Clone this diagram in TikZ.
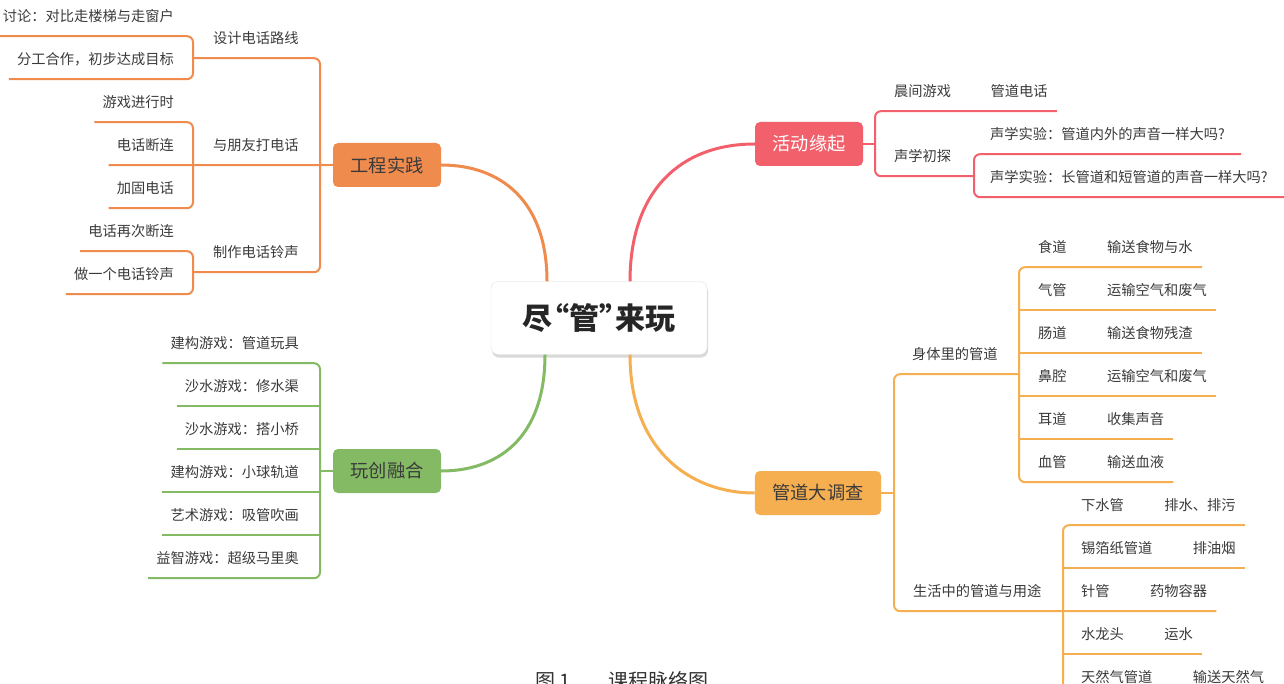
\documentclass[tikz,border=0pt]{standalone}
\usepackage{fontspec}
\setmainfont{Noto Sans CJK SC}
\usetikzlibrary{positioning, calc, shadows}

\definecolor{gongC}{HTML}{F08B4E}
\definecolor{huoC}{HTML}{F1606B}
\definecolor{wanC}{HTML}{84BA64}
\definecolor{guanC}{HTML}{F5AE50}
\definecolor{txtC}{HTML}{3A3A3A}

\begin{document}
\begin{tikzpicture}[
  x=1pt, y=-1pt,
  every node/.style={inner sep=0pt, text=txtC, font=\fontsize{14.25}{16}\selectfont},
  leaf/.style={minimum height=40pt},
  leafL/.style={leaf, inner xsep=8pt, anchor=east},
  leafR/.style={leaf, anchor=west},
  topic/.style={rounded corners=5pt, minimum height=44pt, inner xsep=17.5pt, font=\fontsize{18.25}{20}\selectfont},
  uline/.style={line width=2pt, rounded corners=6pt},
  branch/.style={line width=3pt}
]
\useasboundingbox (0,0) rectangle (1284,684);
\clip (0,0) rectangle (1284,684);

% centre
\node[draw=black!12, fill=white, rounded corners=7pt, minimum width=216pt, minimum height=73pt,
  drop shadow={shadow xshift=1pt, shadow yshift=-3pt, opacity=0.3},
  font=\fontsize{30}{34}\selectfont\bfseries, text=black!85] (root) at (599,318) {尽\kern-0.45em“管”\kern-0.45em来玩};

% main topics
\node[topic, fill=gongC] (gong) at (387,165) {工程实践};
\node[topic, fill=huoC, text=white] (huo) at (809,144) {活动缘起};
\node[topic, fill=wanC] (wan) at (387,471) {玩创融合};
\node[topic, fill=guanC] (guan) at (818,493) {管道大调查};

\draw[branch, gongC] ([xshift=-52pt]root.north) .. controls +(0,-80) and +(60,0) .. (gong.east);
\draw[branch, huoC] ([xshift=31pt]root.north) .. controls +(0,-90) and +(-75,0) .. (huo.west);
\draw[branch, wanC] ([xshift=-54pt]root.south) .. controls +(0,85) and +(55,0) .. (wan.east);
\draw[branch, guanC] ([xshift=31pt]root.south) .. controls +(0,95) and +(-65,0) .. (guan.west);

% 工程实践
\coordinate (gongBrk) at (193,0);
\coordinate (gongTrunk) at (320,0);
\node[leafR] (sheji) at (213,38) {设计电话路线};
\node[leafR] (pengyou) at (213,145) {与朋友打电话};
\node[leafR] (lingsheng) at (213,252) {制作电话铃声};
\node[leafL] (taolun) at (182,16) {讨论：对比走楼梯与走窗户};
\node[leafL] (fengong) at (182,59) {分工合作，初步达成目标};
\node[leafL] (youxi) at (182,102) {游戏进行时};
\node[leafL] (duanlian) at (182,145) {电话断连};
\node[leafL] (jiagu) at (182,188) {加固电话};
\node[leafL] (zaici) at (182,231) {电话再次断连};
\node[leafL] (zuoyige) at (182,274) {做一个电话铃声};

\draw[uline, gongC] (sheji.south -| gongBrk) -- (sheji.south -| gongTrunk) -- (lingsheng.south -| gongTrunk) -- (lingsheng.south -| gongBrk);
\draw[uline, gongC] (duanlian.south west) -- (gong.west);
\draw[uline, gongC] (taolun.south west) -- (taolun.south west -| gongBrk) -- (fengong.south west -| gongBrk) -- (fengong.south west);
\draw[uline, gongC] (youxi.south west) -- (youxi.south west -| gongBrk) -- (jiagu.south west -| gongBrk) -- (jiagu.south west);
\draw[uline, gongC] (zaici.south west) -- (zaici.south west -| gongBrk) -- (zuoyige.south west -| gongBrk) -- (zuoyige.south west);

% 玩创融合
\coordinate (wanBrk) at (320,0);
\node[leafL] (jiangou1) at (307,343) {建构游戏：管道玩具};
\node[leafL] (shashui1) at (307,386) {沙水游戏：修水渠};
\node[leafL] (shashui2) at (307,429) {沙水游戏：搭小桥};
\node[leafL] (jiangou2) at (307,472) {建构游戏：小球轨道};
\node[leafL] (yishu) at (307,515) {艺术游戏：吸管吹画};
\node[leafL] (yizhi) at (307,558) {益智游戏：超级马里奥};

\draw[uline, wanC] (wan.west) -- (wan.west -| wanBrk);
\draw[uline, wanC] (jiangou1.south west) -- (jiangou1.south west -| wanBrk) -- (yizhi.south west -| wanBrk) -- (yizhi.south west);
\draw[uline, wanC] (shashui1.south west) -- (shashui1.south west -| wanBrk);
\draw[uline, wanC] (shashui2.south west) -- (shashui2.south west -| wanBrk);
\draw[uline, wanC] (jiangou2.south west) -- (jiangou2.south west -| wanBrk);
\draw[uline, wanC] (yishu.south west) -- (yishu.south west -| wanBrk);

% 活动缘起
\coordinate (huoBrk) at (875,0);
\coordinate (shengBrk) at (974,0);
\node[leafR] (chenjian) at (894,91) {晨间游戏};
\node[leaf, right=39pt of chenjian] (dianhua) {管道电话};
\node[leafR] (chutan) at (894,156) {声学初探};
\node[leafR] (shiyan1) at (990,134) {声学实验：管道内外的声音一样大吗?};
\node[leafR] (shiyan2) at (990,177) {声学实验：长管道和短管道的声音一样大吗?};

\draw[uline, huoC] (huo.east) -- (huo.east -| huoBrk);
\draw[uline, huoC] ([xshift=9pt]dianhua.south east) -- (chenjian.south -| huoBrk) -- (chutan.south -| huoBrk) -- (chutan.south -| shengBrk);
\draw[uline, huoC] ([xshift=16pt]shiyan1.south east) -- (shiyan1.south -| shengBrk) -- (shiyan2.south -| shengBrk) -- ([xshift=16pt]shiyan2.south east);

% 管道大调查
\coordinate (guanTrunk) at (894,0);
\coordinate (shentiBrk) at (1019,0);
\coordinate (shenghuoBrk) at (1063,0);
\node[leafR] (shenti) at (912,354) {身体里的管道};
\node[leafR] (shenghuo) at (913,591) {生活中的管道与用途};

\node[leafR] (shidao) at (1038,247) {食道};
\node[leaf, right=40pt of shidao] (shidaoYong) {输送食物与水};
\node[leafR] (qiguan) at (1038,290) {气管};
\node[leaf, right=40pt of qiguan] (qiguanYong) {运输空气和废气};
\node[leafR] (changdao) at (1038,333) {肠道};
\node[leaf, right=40pt of changdao] (changdaoYong) {输送食物残渣};
\node[leafR] (biqiang) at (1038,376) {鼻腔};
\node[leaf, right=40pt of biqiang] (biqiangYong) {运输空气和废气};
\node[leafR] (erdao) at (1038,419) {耳道};
\node[leaf, right=40pt of erdao] (erdaoYong) {收集声音};
\node[leafR] (xueguan) at (1038,462) {血管};
\node[leaf, right=40pt of xueguan] (xueguanYong) {输送血液};

\node[leafR] (xiashui) at (1081,505) {下水管};
\node[leaf, right=40pt of xiashui] (xiashuiYong) {排水、排污};
\node[leafR] (xibo) at (1081,548) {锡箔纸管道};
\node[leaf, right=40pt of xibo] (xiboYong) {排油烟};
\node[leafR] (zhenguan) at (1081,591) {针管};
\node[leaf, right=40pt of zhenguan] (zhenguanYong) {药物容器};
\node[leafR] (shuilong) at (1081,634) {水龙头};
\node[leaf, right=40pt of shuilong] (shuilongYong) {运水};
\node[leafR] (tianran) at (1081,677) {天然气管道};
\node[leaf, right=40pt of tianran] (tianranYong) {输送天然气};

\draw[uline, guanC] (guan.east) -- (guan.east -| guanTrunk);
\draw[uline, guanC] (shenti.south -| shentiBrk) -- (shenti.south -| guanTrunk) -- (shenghuo.south -| guanTrunk) -- ([xshift=9pt]zhenguanYong.south east);
\draw[uline, guanC] ([xshift=9pt]shidaoYong.south east) -- (shidao.south -| shentiBrk) -- (xueguan.south -| shentiBrk) -- ([xshift=9pt]xueguanYong.south east);
\draw[uline, guanC] ([xshift=9pt]qiguanYong.south east) -- (qiguan.south -| shentiBrk);
\draw[uline, guanC] ([xshift=9pt]changdaoYong.south east) -- (changdao.south -| shentiBrk);
\draw[uline, guanC] ([xshift=9pt]biqiangYong.south east) -- (biqiang.south -| shentiBrk);
\draw[uline, guanC] ([xshift=9pt]erdaoYong.south east) -- (erdao.south -| shentiBrk);
\draw[uline, guanC] ([xshift=9pt]xiashuiYong.south east) -- (xiashui.south -| shenghuoBrk) -- (tianran.south -| shenghuoBrk) -- ([xshift=9pt]tianranYong.south east);
\draw[uline, guanC] ([xshift=9pt]xiboYong.south east) -- (xibo.south -| shenghuoBrk);
\draw[uline, guanC] ([xshift=9pt]shuilongYong.south east) -- (shuilong.south -| shenghuoBrk);

% caption
\node[font=\fontsize{20}{22}\selectfont, text=black!80] (caption) at (622,681) {图 1\hspace{38pt}课程脉络图};
\end{tikzpicture}
\end{document}
